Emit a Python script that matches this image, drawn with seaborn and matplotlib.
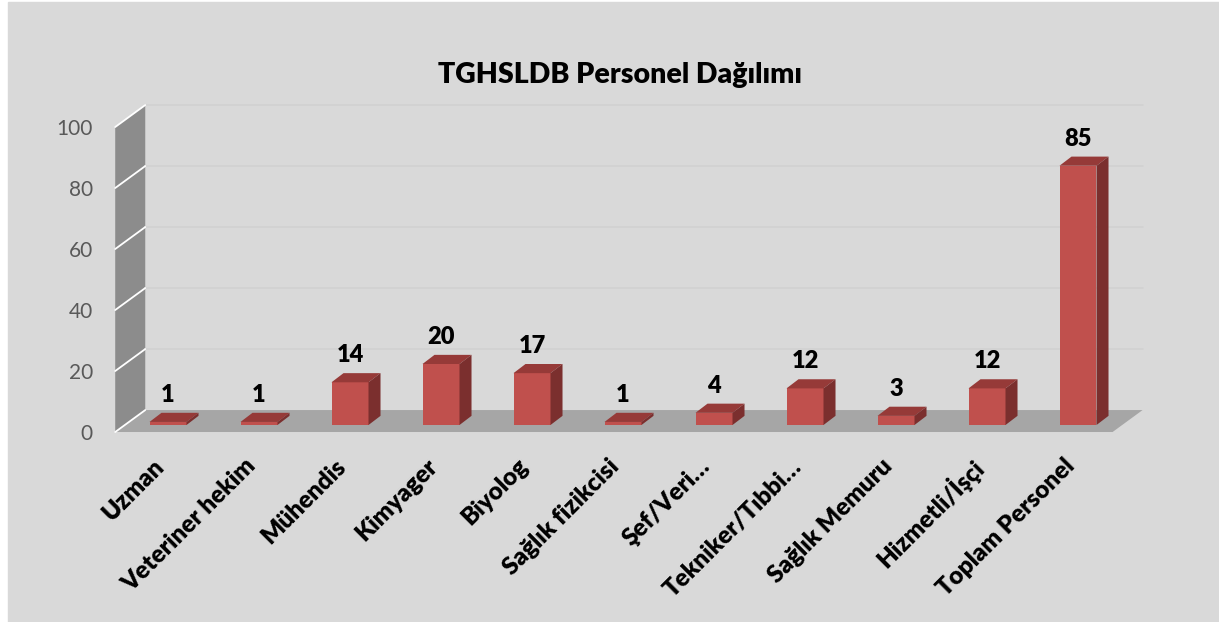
import matplotlib
matplotlib.use("Agg")
import matplotlib.pyplot as plt
from matplotlib.patches import Polygon, Rectangle
import seaborn as sns

# data
categories = ["Uzman", "Veteriner hekim", "Mühendis", "Kimyager", "Biyolog",
              "Sağlık fizikcisi", "Şef/Veri…", "Tekniker/Tıbbi…", "Sağlık Memuru",
              "Hizmetli/İşçi", "Toplam Personel"]
values = [1, 1, 14, 20, 17, 1, 4, 12, 3, 12, 85]
y_ticks = [0, 20, 40, 60, 80, 100]
title = "TGHSLDB Personel Dağılımı"

# colours
bg = "#d9d9d9"
bar_front = "#c0504d"
bar_top = "#963a38"
bar_side = "#7b2f2e"
floor_col = "#a6a6a6"
wall_col = "#8c8c8c"

# fake 3d geometry (data units: x = category slot, y = value)
px_x, px_y = 91.0, 3.05          # pixels per unit
front_dx, front_dy = -0.11, -2.3  # front plane relative to bar base
back_dx, back_dy = 0.22, 4.9      # back plane relative to bar base
bar_dx, bar_dy = 0.132, 3.0       # bar depth
wall_x = -0.47                    # wall position (before plane shift)
floor_end = 10.49

W, H = 1219, 622
fig = plt.figure(figsize=(W / 100, H / 100), dpi=100, facecolor="white")
fig.patches.append(Rectangle((8 / W, 0), 1, 620 / H, transform=fig.transFigure,
                             color=bg, zorder=-5))
sns.set_style("white")
plt.rcParams["font.family"] = ["Lato", "DejaVu Sans"]

ax = fig.add_axes([0, 0, 1, 1])
ax.set_facecolor("none")

top_val = y_ticks[-1]
fx0, bx0 = wall_x + front_dx, wall_x + back_dx
fx1, bx1 = floor_end + front_dx, floor_end + back_dx

# left wall and floor
ax.add_patch(Polygon([(fx0, front_dy), (fx0, front_dy + top_val),
                      (bx0, back_dy + top_val), (bx0, back_dy)],
                     closed=True, color=wall_col, lw=0, zorder=1))
ax.add_patch(Polygon([(fx0, front_dy), (bx0, back_dy), (bx1, back_dy), (fx1, front_dy)],
                     closed=True, color=floor_col, lw=0, zorder=1))
for v in y_ticks:
    ax.plot([fx0, bx0], [front_dy + v, back_dy + v], color="white", lw=1.3, zorder=2)
    if v > 0:
        ax.plot([bx0, bx1], [back_dy + v, back_dy + v], color="#d1d1d1", lw=1.2, zorder=1)

# bars
n_before = len(ax.patches)
sns.barplot(x=list(range(len(values))), y=values, width=37 / px_x, color=bar_front,
            saturation=1, native_scale=True, linewidth=0, ax=ax, zorder=3)
bars = ax.patches[n_before:]
for p, v in zip(bars, values):
    x0 = p.get_x()
    x1 = x0 + p.get_width()
    h = p.get_height()
    ax.add_patch(Polygon([(x0, h), (x0 + bar_dx, h + bar_dy), (x1 + bar_dx, h + bar_dy), (x1, h)],
                         closed=True, color=bar_top, lw=0, zorder=4))
    ax.add_patch(Polygon([(x1, 0), (x1, h), (x1 + bar_dx, h + bar_dy), (x1 + bar_dx, bar_dy)],
                         closed=True, color=bar_side, lw=0, zorder=4))
    ax.annotate(str(v), (x0 + p.get_width() / 2, h + bar_dy), xytext=(0, 5),
                textcoords="offset points", ha="center", va="bottom",
                fontsize=17, fontweight="heavy", color="black")

ax.set_xlim(-168 / px_x, (W - 168) / px_x)
ax.set_ylim((425 - H) / px_y, 425 / px_y)

# axes: ticks on the front edge of the wall / floor
for s in ["top", "right"]:
    ax.spines[s].set_visible(False)
ax.spines["left"].set_position(("data", fx0))
ax.spines["bottom"].set_position(("data", front_dy))
ax.spines["left"].set_color("none")
ax.spines["bottom"].set_color("none")
ax.set_yticks([front_dy + v for v in y_ticks])
ax.set_yticklabels([str(v) for v in y_ticks])
ax.tick_params(axis="y", length=0, pad=16, labelsize=15, labelcolor="#595959")
ax.set_xticks([i - 0.08 for i in range(len(categories))])
ax.set_xticklabels(categories, rotation=45, ha="right", va="center",
                   rotation_mode="anchor", fontweight="heavy")
ax.tick_params(axis="x", length=0, pad=22, labelsize=17.5, labelcolor="black")
ax.set_xlabel("")
ax.set_ylabel("")

fig.text(620 / W, 1 - 75 / H, title, ha="center", va="center",
         fontsize=20.5, fontweight="heavy", color="black")

fig.savefig("out.png", dpi=100, facecolor=fig.get_facecolor())
